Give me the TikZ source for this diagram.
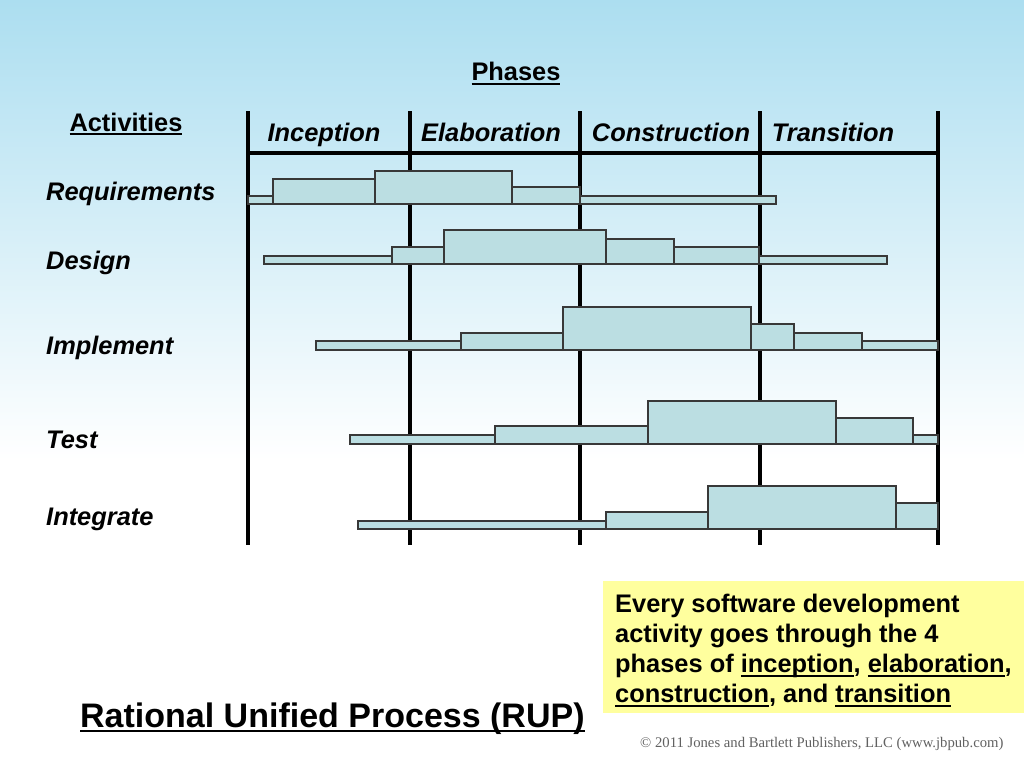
\documentclass[tikz,border=0pt]{standalone}
\usepackage{fontspec}
\setmainfont{Liberation Sans}
\newfontfamily\pubfont{Liberation Serif}
\usetikzlibrary{positioning}
\definecolor{skyblue}{RGB}{172,222,240}
\definecolor{barfill}{RGB}{187,222,226}
\definecolor{noteyellow}{RGB}{255,255,158}
\newcommand{\rupline}[1]{{\setbox0\hbox{#1}\rlap{\vrule width \wd0 height -0.08em depth 0.16em}\box0}}

\begin{document}
\begin{tikzpicture}[x=1pt, y=-1pt, line join=miter]
    \tikzstyle{grid line}=[line width=3.2pt, black]
    \tikzstyle{bar}=[draw=black!78, line width=1.3pt, fill=barfill]
    \tikzstyle{phase}=[font=\fontsize{25.4}{30}\selectfont\bfseries\itshape, anchor=base, inner sep=0pt]
    \tikzstyle{activity}=[font=\fontsize{25.4}{30}\selectfont\bfseries\itshape, anchor=base west, inner sep=0pt]

    % background
    \useasboundingbox (0,0) rectangle (1024,768);
    \fill[white] (0,0) rectangle (1024,768);
    \shade[top color=skyblue, bottom color=white] (0,0) rectangle (1024,460);

    % grid
    \foreach \x in {248,410,580,760,938}
        \draw[grid line] (\x,111) -- (\x,545);
    \draw[grid line] (248,153) -- (938,153);

    % headings
    \node[anchor=base, inner sep=0pt, font=\fontsize{25.4}{30}\selectfont\bfseries] (phases) at (516,81) {\rupline{Phases}};
    \node[anchor=base, inner sep=0pt, font=\fontsize{25.4}{30}\selectfont\bfseries] (activities) at (126,131) {\rupline{Activities}};
    \node[phase] (incep) at (324,141) {Inception};
    \node[phase] (elab)  at (491,141) {Elaboration};
    \node[phase] (cons)  at (671,141) {Construction};
    \node[phase] (trans) at (833,141) {Transition};

    \node[activity] (req)  at (46,200) {Requirements};
    \node[activity] (des)  at (46,269) {Design};
    \node[activity] (impl) at (46,354) {Implement};
    \node[activity] (test) at (46,448) {Test};
    \node[activity] (intg) at (46,525) {Integrate};

    % bars: thin bar first, then the steps (left/right/top)
    \draw[bar] (248,196) rectangle (776,204);
    \foreach \l/\r/\t in {273/375/179, 375/512/171, 512/580/187}
        \draw[bar] (\l,204) rectangle (\r,\t);

    \draw[bar] (264,256) rectangle (887,264);
    \foreach \l/\r/\t in {392/444/247, 444/606/230, 606/674/239, 674/759/247}
        \draw[bar] (\l,264) rectangle (\r,\t);

    \draw[bar] (316,341) rectangle (938,350);
    \foreach \l/\r/\t in {461/563/333, 563/751/307, 751/794/324, 794/862/333}
        \draw[bar] (\l,350) rectangle (\r,\t);

    \draw[bar] (350,435) rectangle (938,444);
    \foreach \l/\r/\t in {495/648/426, 648/836/401, 836/913/418}
        \draw[bar] (\l,444) rectangle (\r,\t);

    \draw[bar] (358,521) rectangle (938,529);
    \foreach \l/\r/\t in {606/708/512, 708/896/486, 896/938/503}
        \draw[bar] (\l,529) rectangle (\r,\t);

    % note
    \fill[noteyellow] (603,581) rectangle (1024,713);
    \node[anchor=north west, inner sep=0pt, align=left, font=\fontsize{25.4}{30}\selectfont\bfseries] (note) at (615,594)
        {Every software development\\activity goes through the 4\\phases of \rupline{inception}, \rupline{elaboration},\\\rupline{construction}, and \rupline{transition}};

    \node[anchor=base west, inner sep=0pt, font=\fontsize{34}{40}\selectfont\bfseries] (title) at (80,727) {\rupline{Rational Unified Process (RUP)}};
    \node[anchor=base west, inner sep=0pt, text=black!62, font=\pubfont\fontsize{14.7}{17}\selectfont] (copy) at (640,747) {\textcopyright\ 2011 Jones and Bartlett Publishers, LLC (www.jbpub.com)};
\end{tikzpicture}
\end{document}
